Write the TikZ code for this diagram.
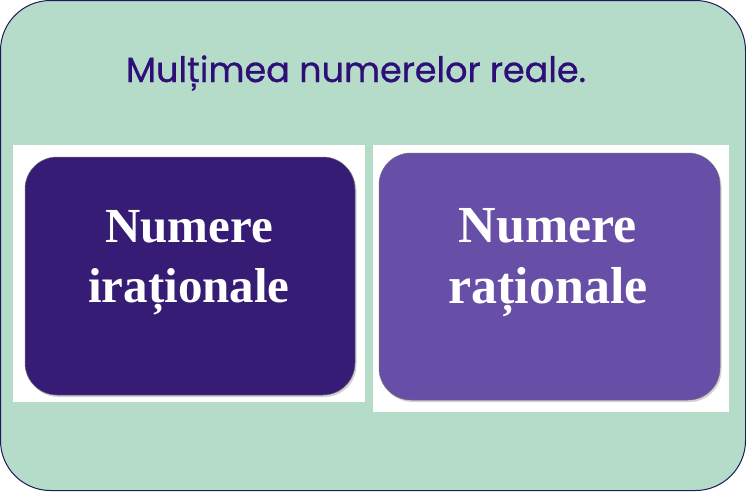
\documentclass[tikz,border=0pt]{standalone}
\usepackage{fontspec}
\setmainfont{Liberation Serif}
\newfontfamily\titlefont[FakeBold=0.8]{Poppins}
\usetikzlibrary{shadows}
\definecolor{mint}{HTML}{B5DBC9}
\definecolor{frame}{HTML}{1F1A5C}
\definecolor{darkp}{HTML}{361C74}
\definecolor{lightp}{HTML}{674EA7}
\definecolor{titlec}{HTML}{2E0E78}
\tikzset{
  whitebg/.style={fill=white, draw=none},
  pbox/.style={draw=black!55, line width=0.5pt, rounded corners=32pt, drop shadow={shadow xshift=1.5pt, shadow yshift=-2pt, opacity=0.35}},
  boxtext/.style={text=white, align=center, inner sep=0pt, anchor=base},
}
\begin{document}
\begin{tikzpicture}[x=1pt,y=-1pt]
\useasboundingbox (0,0) rectangle (746,491);
\draw[fill=mint, draw=frame, line width=1pt, rounded corners=50pt] (0.5,0.5) rectangle (745.5,490.5);
\node[text=titlec, font=\titlefont\fontsize{35}{40}\selectfont, anchor=base, inner sep=0pt] (title) at (356,82) {Mulțimea numerelor reale.};
\fill[whitebg] (13,145) rectangle (365,402);
\fill[whitebg] (373,145) rectangle (729,412);
\path[pbox, fill=darkp] (25,157) rectangle (355,395);
\path[pbox, fill=lightp] (379,153) rectangle (720,400);
\node[boxtext, font=\fontsize{49}{60}\selectfont\bfseries] (irr) at (189,302) {Numere\\irațional{e}};
\node[boxtext, font=\fontsize{52}{61}\selectfont\bfseries] (rat) at (548,303) {Numere\\raționale};
\end{tikzpicture}
\end{document}
